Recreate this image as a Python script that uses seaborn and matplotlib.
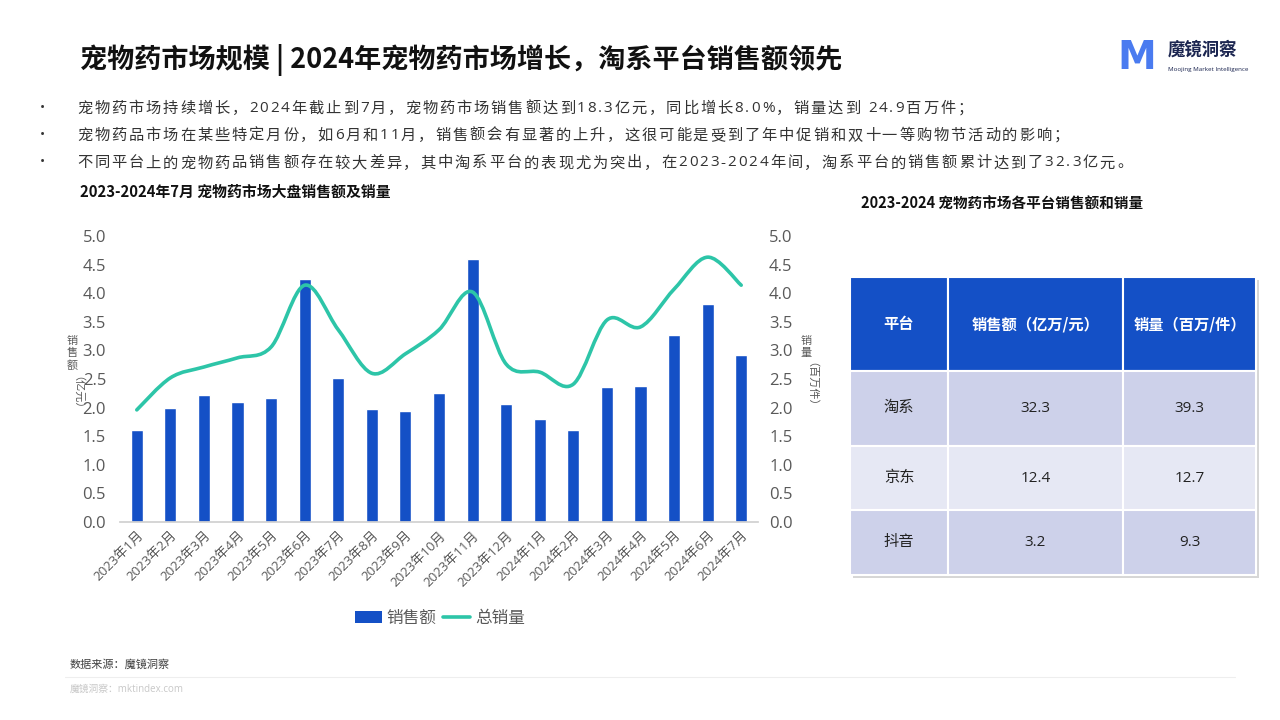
import numpy as np
import pandas as pd
import seaborn as sns
import matplotlib.pyplot as plt
from matplotlib import font_manager
from matplotlib.ft2font import FT2Font
from matplotlib.path import Path
from matplotlib.patches import PathPatch, Rectangle, Patch
from matplotlib.lines import Line2D

# ---- data ----
months = ["2023年1月", "2023年2月", "2023年3月", "2023年4月", "2023年5月", "2023年6月",
          "2023年7月", "2023年8月", "2023年9月", "2023年10月", "2023年11月", "2023年12月",
          "2024年1月", "2024年2月", "2024年3月", "2024年4月", "2024年5月", "2024年6月",
          "2024年7月"]
sales = [1.61, 1.99, 2.22, 2.10, 2.17, 4.25, 2.52, 1.98, 1.94, 2.26, 4.60, 2.06,
         1.80, 1.61, 2.36, 2.38, 3.27, 3.81, 2.92]          # 亿元
volume = [1.96, 2.52, 2.71, 2.87, 3.06, 4.14, 3.36, 2.60, 2.94, 3.36, 4.02, 2.76,
          2.62, 2.41, 3.53, 3.41, 4.07, 4.63, 4.14]         # 百万件

platforms = ["淘系", "京东", "抖音"]
platform_sales = ["32.3", "12.4", "3.2"]
platform_volume = ["39.3", "12.7", "9.3"]
table_header = ["平台", "销售额（亿万/元）", "销量（百万/件）"]

bullets = [
    "宠物药市场持续增长，2024年截止到7月，宠物药市场销售额达到18.3亿元，同比增长8.0%，销量达到 24.9百万件；",
    "宠物药品市场在某些特定月份，如6月和11月，销售额会有显著的上升，这很可能是受到了年中促销和双十一等购物节活动的影响；",
    "不同平台上的宠物药品销售额存在较大差异，其中淘系平台的表现尤为突出，在2023-2024年间，淘系平台的销售额累计达到了32.3亿元。",
]

BLUE = "#1450C6"
TEAL = "#2DC5A8"
GRAY = "#595959"
CJK = ['Noto Sans CJK SC', 'DejaVu Sans']
MIX = ['Open Sans', 'Noto Sans CJK SC', 'DejaVu Sans']

sns.set_theme(style="white")
plt.rcParams['font.family'] = MIX

fig = plt.figure(figsize=(12.8, 7.2), dpi=100)
fig.patch.set_facecolor("white")

# ---- main combo chart ----
ax = fig.add_axes([120 / 1280, 1 - 522 / 720, 638 / 1280, 286 / 720])
df = pd.DataFrame({"month": months, "sales": sales, "volume": volume})
sns.barplot(data=df, x="month", y="sales", ax=ax, color=BLUE, saturation=1, width=0.36)
ax.set_xlim(-0.5, len(months) - 0.5)
ax.set_ylim(0, 5)
ticks = np.arange(0, 5.01, 0.5)
ax.set_yticks(ticks)
ax.set_yticklabels([f"{v:.1f}" for v in ticks])
ax.set_xlabel("")
ax.set_ylabel("")
for s in ["top", "right", "left"]:
    ax.spines[s].set_visible(False)
ax.spines["bottom"].set_color("#D0D0D0")
ax.tick_params(axis="y", labelsize=12, colors=GRAY, length=0, pad=10)
ax.tick_params(axis="x", length=0, pad=5)
ax.set_xticks(range(len(months)))
ax.set_xticklabels(months, rotation=45, ha="right", rotation_mode="anchor",
                   fontsize=9.5, color=GRAY)

ax2 = ax.twinx()
ax2.set_ylim(0, 5)
ax2.set_yticks(ticks)
ax2.set_yticklabels([f"{v:.1f}" for v in ticks])
ax2.tick_params(axis="y", labelsize=12, colors=GRAY, length=0, pad=8)
for s in ax2.spines.values():
    s.set_visible(False)

# smoothed line (Catmull-Rom as cubic Bezier, like Excel's smooth line)
xs = np.arange(len(volume), dtype=float)
ys = np.array(volume)
verts = [(xs[0], ys[0])]
codes = [Path.MOVETO]
n = len(xs)
for i in range(n - 1):
    p0 = np.array([xs[max(i - 1, 0)], ys[max(i - 1, 0)]])
    p1 = np.array([xs[i], ys[i]])
    p2 = np.array([xs[i + 1], ys[i + 1]])
    p3 = np.array([xs[min(i + 2, n - 1)], ys[min(i + 2, n - 1)]])
    c1 = p1 + (p2 - p0) / 6
    c2 = p2 - (p3 - p1) / 6
    verts += [tuple(c1), tuple(c2), tuple(p2)]
    codes += [Path.CURVE4] * 3
ax2.add_patch(PathPatch(Path(verts, codes), facecolor="none", edgecolor=TEAL,
                        lw=2.6, capstyle="round", joinstyle="round"))

# legend
handles = [Patch(facecolor=BLUE, edgecolor="none"),
           Line2D([0], [0], color=TEAL, lw=2.6)]
fig.legend(handles, ["销售额", "总销量"], loc="center", bbox_to_anchor=(440 / 1280, 1 - 618 / 720),
           ncol=2, frameon=False, handlelength=1.6, handletextpad=0.3,
           columnspacing=0.4, labelcolor=GRAY, prop={"family": CJK, "size": 12})

# ---- overlay for text, table, decorations ----
ov = fig.add_axes([0, 0, 1, 1], zorder=-1)
ov.set_xlim(0, 1280)
ov.set_ylim(720, 0)
ov.axis("off")

# the bullet text in the original has letter spacing, so place chars one by one
fonts = {}
for fam in ["Open Sans", "Noto Sans CJK SC"]:
    f = FT2Font(font_manager.findfont(fam))
    fonts[fam] = f


def tracked_text(x, y, s, size, spacing, color):
    for ch in s:
        fam = "Open Sans" if fonts["Open Sans"].get_char_index(ord(ch)) else "Noto Sans CJK SC"
        f = fonts[fam]
        f.set_size(size, 100)
        adv = f.load_char(ord(ch)).linearHoriAdvance / 65536
        if ch != " ":
            ov.text(x, y, ch, fontsize=size, color=color, va="center", ha="left", family=fam)
        x += adv + spacing


# axis titles, characters stacked like the original
for j, ch in enumerate("销售额"):
    ov.text(72, 341 + j * 12, ch, fontsize=8, color=GRAY, ha="center", va="center", family=CJK)
ov.text(72, 398, "（亿元）", fontsize=8, color=GRAY, ha="center", va="center",
        rotation=-90, family=CJK)
for j, ch in enumerate("销量"):
    ov.text(806, 341 + j * 12, ch, fontsize=8, color=GRAY, ha="center", va="center", family=CJK)
ov.text(806, 390, "（百万件）", fontsize=8, color=GRAY, ha="center", va="center",
        rotation=-90, family=CJK)

ov.text(80, 60, "宠物药市场规模 | 2024年宠物药市场增长，淘系平台销售额领先", fontsize=19.5,
        fontweight="bold", color="#111111", va="center", ha="left", family=CJK)
for i, b in enumerate(bullets):
    yy = 108 + i * 27.5
    ov.text(42, yy, "•", fontsize=10, color="#333333", va="center", ha="center")
    tracked_text(77, yy, b, 11, 1.9, "#333333")
ov.text(80, 192, "2023-2024年7月 宠物药市场大盘销售额及销量", fontsize=10.7,
        fontweight="bold", color="#111111", va="center", ha="left", family=CJK)
ov.text(1002, 204, "2023-2024 宠物药市场各平台销售额和销量", fontsize=10.5,
        fontweight="bold", color="#111111", va="center", ha="center", family=CJK)

# logo
ov.text(1137, 58, "M", fontsize=28, fontweight="bold", color="#4A7BF0",
        va="center", ha="center", family="DejaVu Sans")
ov.text(1168, 50, "魔镜洞察", fontsize=12.5, fontweight="bold", color="#1B2550",
        va="center", ha="left", family=CJK)
ov.text(1168, 69, "Moojing Market Intelligence", fontsize=4.5, color="#1B2550",
        va="center", ha="left")

# footer
ov.text(70, 664, "数据来源：魔镜洞察", fontsize=8, color="#404040", va="center", ha="left", family=CJK)
ov.plot([65, 1235], [677, 677], color="#EEEEEE", lw=0.8)
ov.text(70, 689, "魔镜洞察：mktindex.com", fontsize=7, color="#C8C8C8", va="center", ha="left")

# table
xe = [850, 948, 1123, 1256]
ye = [277, 371, 446, 510, 575]
ov.add_patch(Rectangle((xe[0] + 3, ye[0] + 3), xe[-1] - xe[0], ye[-1] - ye[0],
                       facecolor="#BBBBBB", edgecolor="none", alpha=0.6))
row_colors = ["#CDD1EA", "#E6E8F4", "#CDD1EA"]
rows = [table_header] + [[p, s, v] for p, s, v in zip(platforms, platform_sales, platform_volume)]
for r in range(4):
    for c in range(3):
        fc = BLUE if r == 0 else row_colors[r - 1]
        ov.add_patch(Rectangle((xe[c], ye[r]), xe[c + 1] - xe[c], ye[r + 1] - ye[r],
                               facecolor=fc, edgecolor="white", lw=1.5))
        ov.text((xe[c] + xe[c + 1]) / 2, (ye[r] + ye[r + 1]) / 2, rows[r][c],
                fontsize=11, ha="center", va="center",
                color="white" if r == 0 else "#222222",
                fontweight="bold" if r == 0 else "normal",
                family=CJK if r == 0 else MIX)

fig.savefig("out.png", dpi=100)
